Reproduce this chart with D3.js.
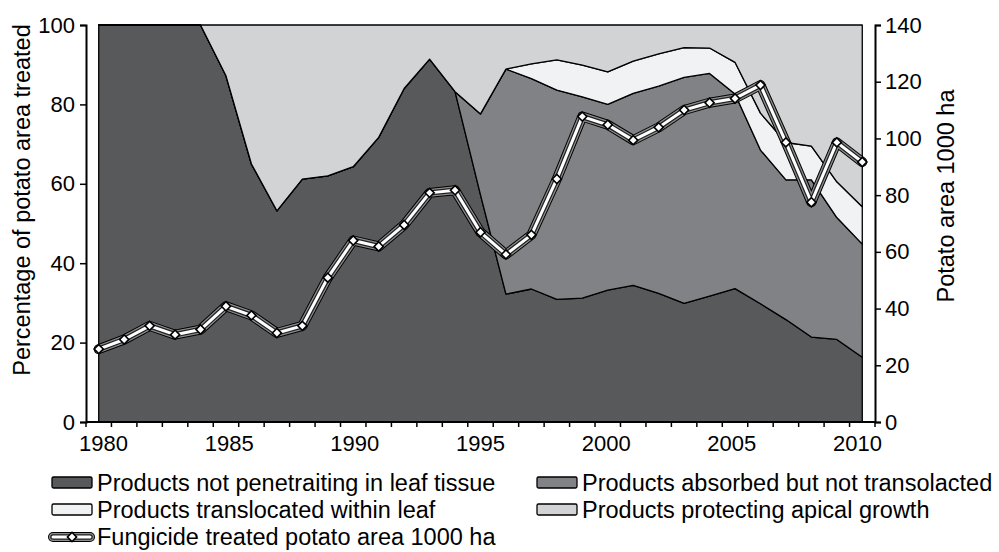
<!DOCTYPE html>
<html>
<head>
<meta charset="utf-8">
<script src="https://cdn.jsdelivr.net/npm/d3@7"></script>
<style>
  body { margin: 0; background: #fff; }
  svg text { font-family: "Liberation Sans", Arial, sans-serif; fill: #000; }
</style>
</head>
<body>
<div id="graph"></div>
<script>
(function() {
  'use strict';

  // ---- data ----
  var years = [1980, 1981, 1982, 1983, 1984, 1985, 1986, 1987, 1988, 1989,
    1990, 1991, 1992, 1993, 1994, 1995, 1996, 1997, 1998, 1999,
    2000, 2001, 2002, 2003, 2004, 2005, 2006, 2007, 2008, 2009, 2010];

  var notPenetrating = [100, 100, 100, 100, 100, 87.2, 65.0, 53.2, 61.2, 62.0,
    64.3, 71.7, 84.0, 91.4, 83.2, 57.2, 32.2, 33.5, 30.9, 31.2,
    33.2, 34.4, 32.4, 29.9, 31.7, 33.6, 29.8, 25.8, 21.4, 20.8, 16.3];

  var absorbed = [0, 0, 0, 0, 0, 0, 0, 0, 0, 0,
    0, 0, 0, 0, 0, 20.4, 56.7, 53.0, 52.7, 50.7,
    46.8, 48.4, 52.2, 56.9, 56.1, 49.0, 38.7, 35.2, 39.6, 30.7, 28.5];

  var translocated = [0, 0, 0, 0, 0, 0, 0, 0, 0, 0,
    0, 0, 0, 0, 0, 0, 0, 3.7, 7.6, 8.0,
    8.2, 8.1, 8.1, 7.5, 6.4, 8.0, 9.3, 9.4, 8.5, 9.0, 9.4];

  var apical = [0, 0, 0, 0, 0, 12.8, 35.0, 46.8, 38.8, 38.0,
    35.7, 28.3, 16.0, 8.6, 16.8, 22.4, 11.1, 9.8, 8.8, 10.1,
    11.8, 9.1, 7.3, 5.7, 5.8, 9.4, 22.2, 29.6, 30.5, 39.5, 45.8];

  var treatedArea = [25.7, 29.1, 33.9, 30.8, 32.6, 40.8, 37.6, 31.4, 33.9, 50.9,
    64.0, 61.9, 69.5, 80.8, 81.7, 66.9, 59.1, 66.0, 85.7, 107.7,
    104.8, 99.4, 103.9, 110.0, 112.6, 114.1, 118.8, 98.6, 77.5, 98.6, 91.7];

  var xLabels = [1980, 1985, 1990, 1995, 2000, 2005, 2010];
  var leftTicks = [0, 20, 40, 60, 80, 100];
  var rightTicks = [0, 20, 40, 60, 80, 100, 120, 140];

  var seriesNames = [
    'Products not penetraiting in leaf tissue',
    'Products absorbed but not transolacted',
    'Products translocated within leaf',
    'Products protecting apical growth'
  ];
  var lineName = 'Fungicide treated potato area 1000 ha';
  var keys = ['np', 'ab', 'tr', 'ap'];
  var colors = ['#58595b', '#808285', '#f1f2f4', '#d1d3d4'];

  var table = years.map(function(y, i) {
    return {year: y, np: notPenetrating[i], ab: absorbed[i], tr: translocated[i], ap: apical[i]};
  });

  // ---- layout ----
  var W = 999, H = 552,
    axisLeftX = 86, axisRightX = 875,
    top = 25, bottom = 422;

  var svg = d3.select('#graph').append('svg')
    .attr('width', W)
    .attr('height', H);

  var x = d3.scaleBand().domain(years).range([axisLeftX, axisRightX]);
  var cx = function(y) { return x(y) + x.bandwidth() / 2; };
  // the year labels drift a little against the bands in the original
  var xLab = d3.scaleLinear().domain([1980, 2010]).range([103, 857]);
  var yL = d3.scaleLinear().domain([0, 100]).range([bottom, top]);
  var yR = d3.scaleLinear().domain([0, 140]).range([bottom, top]);

  // stacked areas
  var stacked = d3.stack().keys(keys)(table);
  var area = d3.area()
    .x(function(d) { return cx(d.data.year); })
    .y0(function(d) { return yL(d[0]); })
    .y1(function(d) { return yL(d[1]); });

  svg.append('g').selectAll('path')
    .data(stacked)
    .enter().append('path')
    .attr('d', area)
    .attr('fill', function(d, i) { return colors[i]; })
    .attr('stroke', '#000')
    .attr('stroke-width', 1.3)
    .attr('stroke-linejoin', 'round');

  // axes
  var gL = svg.append('g')
    .attr('transform', 'translate(' + axisLeftX + ',0)')
    .call(d3.axisLeft(yL).tickValues(leftTicks).tickSize(6).tickPadding(5));
  var gR = svg.append('g')
    .attr('transform', 'translate(' + axisRightX + ',0)')
    .call(d3.axisRight(yR).tickValues(rightTicks).tickSize(6).tickPadding(4));
  var gB = svg.append('g')
    .attr('transform', 'translate(0,' + bottom + ')')
    .call(d3.axisBottom(xLab).tickValues(xLabels).tickFormat(d3.format('d')).tickSize(0).tickPadding(13));
  gB.select('path.domain').remove();
  svg.append('line')
    .attr('x1', axisLeftX).attr('x2', axisRightX)
    .attr('y1', bottom).attr('y2', bottom)
    .attr('stroke', '#000').attr('stroke-width', 2);

  [gL, gR, gB].forEach(function(g) {
    g.selectAll('path.domain').attr('stroke', '#000').attr('stroke-width', 2);
    g.selectAll('.tick line').attr('stroke', '#000').attr('stroke-width', 1.5);
    g.selectAll('.tick text').style('font-size', '22px').attr('fill', '#000');
  });

  // x ticks sit between the categories
  var bounds = years.map(function(y) { return x(y); }).concat([x.range()[1]]);
  svg.append('g').selectAll('line')
    .data(bounds)
    .enter().append('line')
    .attr('x1', function(d) { return d; })
    .attr('x2', function(d) { return d; })
    .attr('y1', bottom)
    .attr('y2', bottom + 5)
    .attr('stroke', '#000')
    .attr('stroke-width', 1.5);

  // axis titles
  svg.append('text')
    .attr('transform', 'translate(30,200) rotate(-90)')
    .attr('text-anchor', 'middle')
    .style('font-size', '23.5px')
    .text('Percentage of potato area treated');
  svg.append('text')
    .attr('transform', 'translate(954,196) rotate(-90)')
    .attr('text-anchor', 'middle')
    .style('font-size', '23.5px')
    .text('Potato area 1000 ha');

  // fungicide line: layered strokes give the double-line look
  var line = d3.line()
    .x(function(d, i) { return cx(years[i]); })
    .y(function(d) { return yR(d); });

  var layers = [['#000', 10], ['#8c8c8c', 8], ['#222', 5.5], ['#fff', 3]];
  function drawLine(g, d) {
    layers.forEach(function(l) {
      g.append('path')
        .attr('d', d)
        .attr('fill', 'none')
        .attr('stroke', l[0])
        .attr('stroke-width', l[1])
        .attr('stroke-linejoin', 'round')
        .attr('stroke-linecap', 'round');
    });
  }
  var gLine = svg.append('g');
  drawLine(gLine, line(treatedArea));

  var diamond = d3.symbol().type(d3.symbolSquare).size(42);
  gLine.selectAll('path.marker')
    .data(treatedArea)
    .enter().append('path')
    .attr('class', 'marker')
    .attr('d', diamond)
    .attr('transform', function(d, i) {
      return 'translate(' + cx(years[i]) + ',' + yR(d) + ') rotate(45)';
    })
    .attr('fill', '#fff')
    .attr('stroke', '#000')
    .attr('stroke-width', 1.6);

  // legend
  var legendPos = [[52, 477], [537, 477], [52, 504], [537, 504]];
  var gLeg = svg.append('g');
  seriesNames.forEach(function(name, i) {
    var p = legendPos[i];
    gLeg.append('rect')
      .attr('x', p[0]).attr('y', p[1])
      .attr('width', 40).attr('height', 11)
      .attr('rx', 1.5)
      .attr('fill', colors[i])
      .attr('stroke', '#000')
      .attr('stroke-width', 1.3);
    gLeg.append('text')
      .attr('x', p[0] + 45)
      .attr('y', p[1] + 14)
      .style('font-size', '23.5px')
      .text(name);
  });

  var gKey = gLeg.append('g');
  drawLine(gKey, 'M53,537H90');
  gKey.append('path')
    .attr('d', diamond)
    .attr('transform', 'translate(72,537) rotate(45)')
    .attr('fill', '#fff')
    .attr('stroke', '#000')
    .attr('stroke-width', 1.6);
  gLeg.append('text')
    .attr('x', 97)
    .attr('y', 545)
    .style('font-size', '23.5px')
    .text(lineName);
})();
</script>
</body>
</html>
